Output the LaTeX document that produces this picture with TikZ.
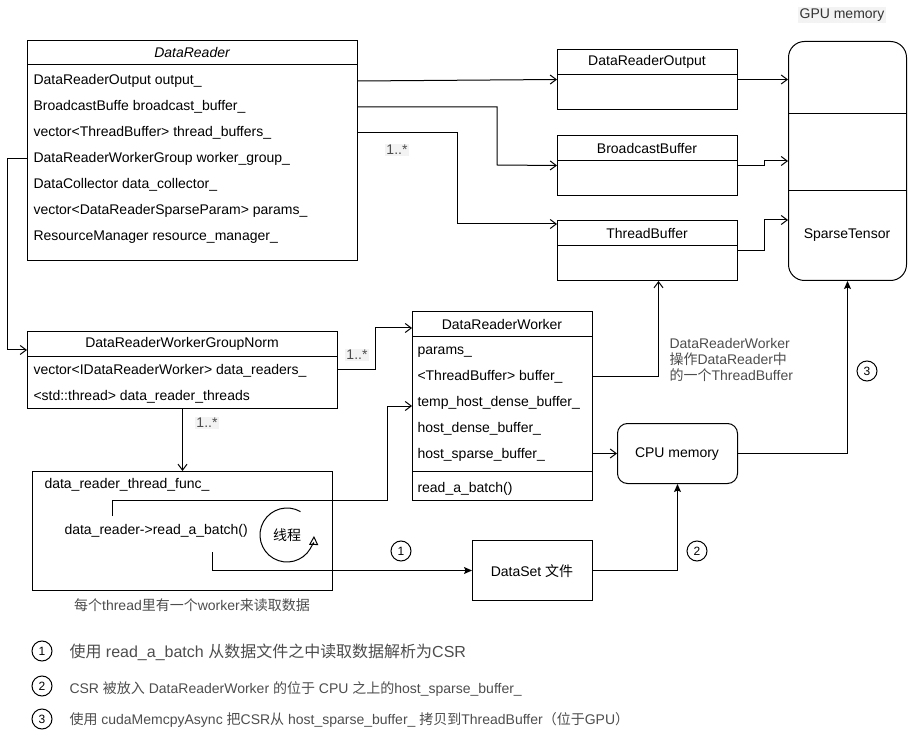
\documentclass[tikz,border=0pt]{standalone}
\usepackage{fontspec}
\setmainfont{Liberation Sans}
\newfontfamily\cjk{Noto Sans CJK SC}
\usetikzlibrary{arrows.meta}
\definecolor{notegray}{HTML}{4D4D4D}
\definecolor{tagfill}{HTML}{F3F3F3}

\begin{document}
\begin{tikzpicture}[x=1pt, y=-1pt, line width=1pt,
  font=\fontsize{14}{16}\selectfont,
  box/.style={draw, inner sep=0pt, anchor=north west},
  row/.style={anchor=west, inner sep=0pt},
  note/.style={text=notegray, inner sep=0pt},
  tag/.style={fill=tagfill, text=notegray, inner sep=1.5pt},
  num/.style={draw, circle, minimum size=20pt, inner sep=0pt, font=\fontsize{12}{12}\selectfont},
  open/.style={-{Straight Barb[length=6pt, width=9pt]}},
  fillarr/.style={-{Stealth[length=8pt, width=7pt, inset=1.5pt]}}]
  \useasboundingbox (0,0) rectangle (908,751);

  % DataReader
  \node[box, minimum width=330, minimum height=220] (dr) at (27,40) {};
  \draw (27,65) -- (357,65);
  \node[font=\fontsize{14}{16}\selectfont\itshape] (drt) at (192,53) {DataReader};
  \node[row] (dr1) at (33,81)  {DataReaderOutput output\_};
  \node[row] (dr2) at (33,107) {BroadcastBuffe broadcast\_buffer\_};
  \node[row] (dr3) at (33,133) {vector<ThreadBuffer> thread\_buffers\_};
  \node[row] (dr4) at (33,159) {DataReaderWorkerGroup worker\_group\_};
  \node[row] (dr5) at (33,185) {DataCollector data\_collector\_};
  \node[row] (dr6) at (33,211) {vector<DataReaderSparseParam> params\_};
  \node[row] (dr7) at (33,237) {ResourceManager resource\_manager\_};

  % buffers
  \node[box, minimum width=180, minimum height=60] (dro) at (557,49) {};
  \draw (557,75) -- (737,75);
  \node (drot) at (647,62) {DataReaderOutput};
  \node[box, minimum width=180, minimum height=60] (bb) at (557,135) {};
  \draw (557,161) -- (737,161);
  \node (bbt) at (647,148) {BroadcastBuffer};
  \node[box, minimum width=180, minimum height=60] (tb) at (557,220) {};
  \draw (557,246) -- (737,246);
  \node (tbt) at (647,233) {ThreadBuffer};

  % GPU
  \node[box, rounded corners=16pt, minimum width=118, minimum height=239] (gpu) at (788,41) {};
  \draw (788,114) -- (906,114);
  \draw (788,191) -- (906,191);
  \node (gput) at (847,235) {SparseTensor};
  \node[tag, text=black!80] (gpul) at (842,15) {GPU memory};

  \coordinate (tbin) at (557,224);
  \coordinate (gputb) at (788,220);
  \draw[open] (dr1 -| dr.east) -- (dro.west);
  \draw[open] (dr2 -| dr.east) -| (497,165) -- (bb.west);
  \draw[open] (dr3 -| dr.east) -| (457,224) -- (tbin);
  \node[tag] (m1) at (397,150) {1..*};
  \draw[open] (dro.east) -- (dro.east -| gpu.west);
  \draw[open] (bb.east) -- ++(26,0) |- (gpu.west);
  \draw[open] (tb.east) -- ++(26,0) |- (gputb);

  % DataReaderWorkerGroupNorm
  \node[box, minimum width=310, minimum height=77] (grp) at (27,331) {};
  \draw (27,357) -- (337,357);
  \node (grpt) at (182,344) {DataReaderWorkerGroupNorm};
  \node[row] (grp1) at (33,371) {vector<IDataReaderWorker> data\_readers\_};
  \node[row] (grp2) at (33,397) {<std::thread> data\_reader\_threads};
  \coordinate (grpin) at (27,350);
  \draw[open] (dr4 -| dr.west) -- ++(-20,0) |- (grpin);

  % DataReaderWorker
  \node[box, minimum width=180, minimum height=189] (drw) at (412,311) {};
  \draw (412,337) -- (592,337);
  \draw (412,471) -- (592,471);
  \node (drwt) at (502,324) {DataReaderWorker};
  \node[row] (drw1) at (417,352) {params\_};
  \node[row] (drw2) at (417,377) {<ThreadBuffer> buffer\_};
  \node[row] (drw3) at (417,403) {temp\_host\_dense\_buffer\_};
  \node[row] (drw4) at (417,429) {host\_dense\_buffer\_};
  \node[row] (drw5) at (417,455) {host\_sparse\_buffer\_};
  \node[row] (drw6) at (417,489) {read\_a\_batch()};
  \coordinate (drwin) at (412,328);
  \draw[open] (grp.east) -- ++(37,0) |- (drwin);
  \node[tag] (m2) at (357,355) {1..*};
  \draw[open] (drw2 -| drw.east) -| ([xshift=11]tb.south);
  \node[note, anchor=north west, align=left] (drwn) at (669,338)
    {DataReaderWorker\\{\cjk 操作}DataReader{\cjk 中}\\{\cjk 的一个}ThreadBuffer};

  % thread func
  \node[box, minimum width=300, minimum height=119] (thr) at (32,471) {};
  \draw[open] (grp.south) -- (thr.north);
  \node[tag] (m3) at (207,423) {1..*};
  \node[row] (thr1) at (44,485) {data\_reader\_thread\_func\_};
  \node[row] (thr2) at (64,531) {data\_reader->read\_a\_batch()};
  \node[inner sep=0pt] (thd) at (287,535) {\cjk 线程};
  \draw[-{Triangle[open, length=9pt, width=9pt]}] (thd.center) ++(-60:27)
    arc[start angle=-60, end angle=-358, radius=27];
  \coordinate (callup) at (112,516);
  \coordinate (calldown) at (212,552);
  \draw[open] (callup) |- (387,500) |- (drw.west);
  \node[note] (thrn) at (192,605) {{\cjk 每个}thread{\cjk 里有一个}worker{\cjk 来读取数据}};

  % CPU and dataset
  \node[box, rounded corners=10pt, minimum width=120, minimum height=60] (cpu) at (617,423) {};
  \node (cput) at (677,454) {CPU memory};
  \node[box, minimum width=120, minimum height=60] (ds) at (472,540) {};
  \node (dst) at (532,571) {DataSet {\cjk 文件}};
  \draw[open] (cpu.west -| drw.east) -- (cpu.west);
  \draw[fillarr] (calldown) |- (ds.west);
  \draw[fillarr] (ds.east) -| (cpu.south);
  \draw[fillarr] (cpu.east) -| (gpu.south);
  \node[num] (n1) at (401,551) {1};
  \node[num] (n2) at (697,551) {2};
  \node[num] (n3) at (867,371) {3};

  % legend
  \node[num] (l1) at (42,651) {1};
  \node[num] (l2) at (42,686) {2};
  \node[num] (l3) at (42,719) {3};
  \node[note, anchor=west, font=\fontsize{16}{18}\selectfont] (lt1) at (69,652)
    {{\cjk 使用} read\_a\_batch {\cjk 从数据文件之中读取数据解析为}CSR};
  \node[note, anchor=west] (lt2) at (69,689)
    {CSR {\cjk 被放入} DataReaderWorker {\cjk 的位于} CPU {\cjk 之上的}host\_sparse\_buffer\_};
  \node[note, anchor=west] (lt3) at (69,720)
    {{\cjk 使用} cudaMemcpyAsync {\cjk 把}CSR{\cjk 从} host\_sparse\_buffer\_ {\cjk 拷贝到}ThreadBuffer{\cjk （位于}GPU{\cjk ）}};
\end{tikzpicture}
\end{document}
